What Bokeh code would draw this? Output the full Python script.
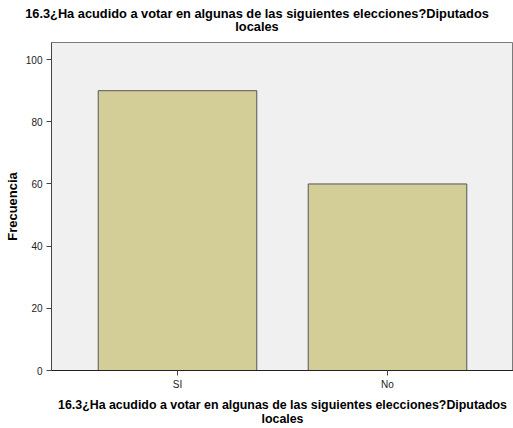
from bokeh.plotting import figure
from bokeh.models import (FactorRange, Range1d, ColumnDataSource, FixedTicker, LinearAxis)
from bokeh.embed import file_html
from bokeh.resources import INLINE

categories = ["SI", "No"]
frecuencia = [90, 60]
y_ticks = [0, 20, 40, 60, 80, 100]
title_lines = ["16.3¿Ha acudido a votar en algunas de las siguientes elecciones?Diputados", "locales"]
y_label = "Frecuencia"

FONT = "Liberation Sans"
W, H = 513, 428
LEFT, RIGHT, TOP, BOTTOM = 51, 0, 42, 55
FRAME_W = W - LEFT - RIGHT
X_PAD = 0.1  # range padding (fraction of the category span)

source = ColumnDataSource(dict(cat=categories, val=frecuencia))

p = figure(width=W, height=H, output_backend="svg", toolbar_location=None,
           x_range=FactorRange(factors=categories, range_padding=X_PAD),
           y_range=Range1d(0, 105.5),
           min_border_left=LEFT, min_border_right=RIGHT,
           min_border_top=TOP, min_border_bottom=BOTTOM)

p.vbar(x="cat", top="val", width=0.755, source=source,
       fill_color="#D3CE98", line_color="#555555", line_width=1)

p.background_fill_color = "#F0F0F0"
p.border_fill_color = "white"
p.outline_line_color = "#7a7a7a"
p.outline_line_width = 1
p.xgrid.visible = False
p.ygrid.visible = False

p.yaxis.ticker = FixedTicker(ticks=y_ticks)
p.yaxis.minor_tick_line_color = None
p.yaxis.major_tick_in = 0
p.yaxis.major_tick_out = 5
p.yaxis.major_label_standoff = 4
p.yaxis.axis_line_color = "#444444"
p.yaxis.major_tick_line_color = "#444444"
p.yaxis.major_label_text_font = FONT
p.yaxis.major_label_text_font_size = "10px"
p.yaxis.major_label_text_color = "#222222"
p.yaxis.axis_label = y_label
p.yaxis.axis_label_text_font = FONT
p.yaxis.axis_label_text_font_style = "bold"
p.yaxis.axis_label_text_font_size = "13px"
p.yaxis.axis_label_text_color = "black"
p.yaxis.axis_label_standoff = 3

p.xaxis.major_tick_in = 0
p.xaxis.major_tick_out = 5
p.xaxis.major_label_standoff = 3
p.xaxis.axis_line_color = "#222222"
p.xaxis.major_tick_line_color = "#444444"
p.xaxis.major_label_text_font = FONT
p.xaxis.major_label_text_font_size = "10px"
p.xaxis.major_label_text_color = "#222222"
p.xaxis.axis_label = "\n".join(title_lines)
p.xaxis.axis_label_text_font = FONT
p.xaxis.axis_label_text_font_style = "bold"
p.xaxis.axis_label_text_font_size = "12.4px"
p.xaxis.axis_label_text_color = "black"
p.xaxis.axis_label_standoff = 5
p.xaxis.axis_label_text_line_height = 1.0

# Chart title: a two-line, centred label over the middle of the whole figure,
# drawn as the only tick label of an invisible axis above the plot.
# Its position is expressed in the category axis' synthetic coordinates.
n = len(categories)
x_start = -X_PAD * n / 2
x_span = n * (1 + X_PAD)
title_pos = round(x_start + (W / 2 - LEFT) / FRAME_W * x_span, 4)
title_axis = LinearAxis(ticker=FixedTicker(ticks=[title_pos], minor_ticks=[]),
                        major_label_overrides={title_pos: "\n".join(title_lines)},
                        axis_line_color=None, major_tick_line_color=None,
                        minor_tick_line_color=None, major_tick_in=0, major_tick_out=0,
                        major_label_standoff=9,
                        major_label_text_font=FONT, major_label_text_font_style="bold",
                        major_label_text_font_size="12.8px", major_label_text_color="black",
                        major_label_text_line_height=0.85)
p.add_layout(title_axis, "above")

open("out.html", "w").write(file_html(p, INLINE))
